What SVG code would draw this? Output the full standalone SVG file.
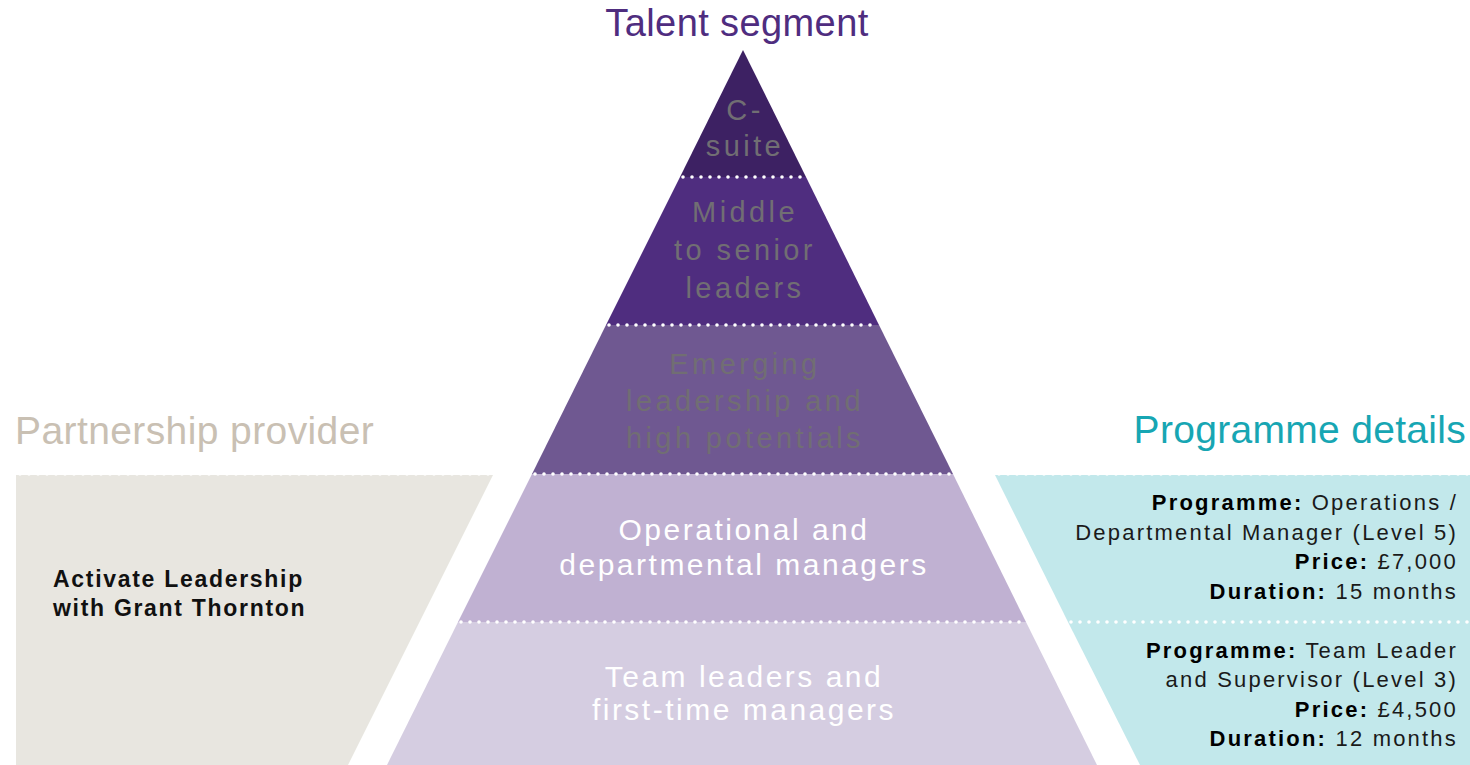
<svg xmlns="http://www.w3.org/2000/svg" width="1470" height="765" viewBox="0 0 1470 765">
<style>
.title{font-family:"Liberation Sans",Arial,sans-serif;font-size:39px;letter-spacing:0.4px}
.lvl{font-family:"Liberation Sans",Arial,sans-serif;font-size:29px;text-anchor:middle;fill:#716e73;letter-spacing:3.4px}
.lvlw{font-family:"Liberation Sans",Arial,sans-serif;font-size:30px;text-anchor:middle;fill:#ffffff;letter-spacing:2.5px}
.det{font-family:"Liberation Sans",Arial,sans-serif;font-size:22px;text-anchor:end;fill:#1a1a1a;letter-spacing:2.2px}
.det .b{font-weight:bold;fill:#000}
.prov{font-family:"Liberation Sans",Arial,sans-serif;font-size:23px;font-weight:bold;fill:#111;letter-spacing:1.7px}
.dots{stroke:#ffffff;stroke-width:3.6;stroke-dasharray:0 9;stroke-linecap:round;fill:none}
</style>
<rect x="0" y="0" width="1470" height="765" fill="#ffffff"/>

<g id="title-talent"><text class="title" x="737" y="36" text-anchor="middle" fill="#4f2d7f" style="font-size:38px">Talent segment</text></g>
<g id="title-partner"><text class="title" x="15" y="444" fill="#c9c0b3">Partnership provider</text></g>
<g id="title-programme"><text class="title" x="1466" y="443" text-anchor="end" fill="#17a6b3" style="letter-spacing:0.3px">Programme details</text></g>

<g id="layer-csuite">
<polygon points="743,50 806,177 680,177" fill="#3d2163"/>
<text class="lvl" x="745" y="120">C-</text>
<text class="lvl" x="745" y="156">suite</text>
</g>
<g id="layer-middle">
<polygon points="680,177 806,177 879,325 606,325" fill="#4f2d7f"/>
<text class="lvl" x="745" y="222">Middle</text>
<text class="lvl" x="745" y="260">to senior</text>
<text class="lvl" x="745" y="298">leaders</text>
</g>
<g id="layer-emerging">
<polygon points="606,325 879,325 953,474 532,474" fill="#6f5891"/>
<text class="lvl" x="745" y="374">Emerging</text>
<text class="lvl" x="745" y="411">leadership and</text>
<text class="lvl" x="745" y="448">high potentials</text>
</g>
<g id="layer-operational">
<polygon points="532,474 953,474 1026,622 458,622" fill="#c0b1d2"/>
<text class="lvlw" x="744" y="540">Operational and</text>
<text class="lvlw" x="744" y="575">departmental managers</text>
</g>
<g id="layer-team">
<polygon points="458,622 1026,622 1097,765 387,765" fill="#d5cde1"/>
<text class="lvlw" x="744" y="687">Team leaders and</text>
<text class="lvlw" x="744" y="720">first-time managers</text>
</g>

<g id="provider-box">
<polygon points="16,475 493,475 348,765 16,765" fill="#e8e6e0"/>
<text class="prov" x="53" y="587">Activate Leadership</text>
<text class="prov" x="53" y="616">with Grant Thornton</text>
</g>

<g id="programme-level5">
<polygon points="995,475 1470,475 1470,622 1068,622" fill="#c2e8eb"/>
<text class="det" x="1458" y="510"><tspan class="b">Programme:</tspan> Operations /</text>
<text class="det" x="1458" y="540">Departmental Manager (Level 5)</text>
<text class="det" x="1458" y="569"><tspan class="b">Price:</tspan> £7,000</text>
<text class="det" x="1458" y="599"><tspan class="b">Duration:</tspan> 15 months</text>
</g>
<g id="programme-level3">
<polygon points="1068,622 1470,622 1470,765 1140,765" fill="#c2e8eb"/>
<text class="det" x="1458" y="658"><tspan class="b">Programme:</tspan> Team Leader</text>
<text class="det" x="1458" y="687">and Supervisor (Level 3)</text>
<text class="det" x="1458" y="717"><tspan class="b">Price:</tspan> £4,500</text>
<text class="det" x="1458" y="746"><tspan class="b">Duration:</tspan> 12 months</text>
</g>

<g id="connectors">
<line class="dots" x1="683" y1="177" x2="804" y2="177"/>
<line class="dots" x1="609" y1="325" x2="877" y2="325"/>
<line class="dots" x1="20" y1="474" x2="490" y2="474"/>
<line class="dots" x1="535" y1="474" x2="951" y2="474"/>
<line class="dots" x1="999" y1="474" x2="1468" y2="474"/>
<line class="dots" x1="461" y1="622" x2="1024" y2="622"/>
<line class="dots" x1="1071" y1="622" x2="1468" y2="622"/>
</g>
</svg>
